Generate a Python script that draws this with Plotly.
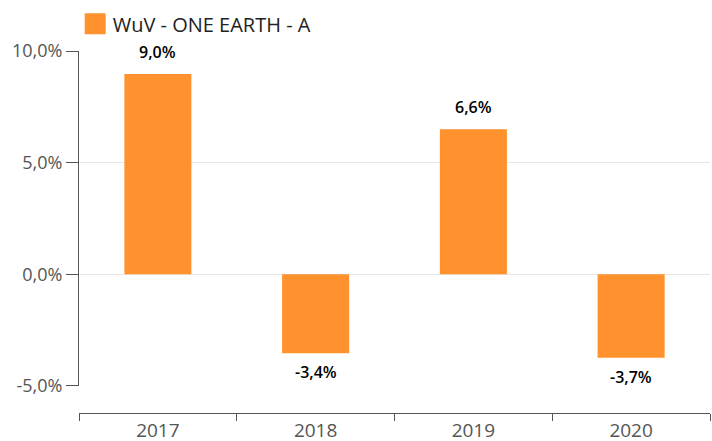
import plotly.graph_objects as go

years = ["2017", "2018", "2019", "2020"]
values = [8.97, -3.53, 6.5, -3.74]
labels = ["9,0%", "-3,4%", "6,6%", "-3,7%"]
tick_vals = [-5, 0, 5, 10]
tick_text = ["-5,0%", "0,0%", "5,0%", "10,0%"]
series_name = "WuV - ONE EARTH - A"

fig = go.Figure()
fig.add_trace(go.Bar(
    x=years, y=values, name=series_name,
    marker=dict(color="#ff922e", line=dict(width=0)),
    showlegend=True, hoverinfo="skip",
))

for i, (v, t) in enumerate(zip(values, labels)):
    fig.add_annotation(
        x=i, y=v, text=t, showarrow=False,
        xref="x", yref="y",
        yanchor="bottom" if v >= 0 else "top",
        yshift=9 if v >= 0 else -6,
        font=dict(family="Open Sans", size=16, color="#000000", weight=600),
    )

fig.update_layout(
    width=712, height=441,
    margin=dict(l=79, r=2, t=51, b=28, autoexpand=False),
    paper_bgcolor="white", plot_bgcolor="white",
    font=dict(family="Open Sans", size=16, color="#555555"),
    bargap=0.575,
    legend=dict(
        orientation="h", x=-0.01, xanchor="left", y=1.075, yanchor="middle",
        font=dict(family="Open Sans", size=20, color="#222222"),
        bgcolor="rgba(0,0,0,0)",
    ),
    xaxis=dict(
        type="category", categoryorder="array", categoryarray=years,
        range=[-0.5, 3.5], anchor="free", position=0,
        showline=True, linecolor="#555555", linewidth=1,
        ticks="outside", tickson="boundaries", ticklen=7, tickcolor="#555555",
        showgrid=False, tickfont=dict(size=19, color="#555555"),
    ),
    yaxis=dict(
        domain=[0.0746, 1], range=[-5, 10],
        tickvals=tick_vals, ticktext=tick_text,
        showline=True, linecolor="#555555", linewidth=1,
        ticks="outside", ticklen=12, tickcolor="#555555",
        showgrid=True, gridcolor="#e6e6e6", gridwidth=1,
        zeroline=False, tickfont=dict(size=18, color="#555555"),
    ),
)

post = (
    "document.body.style.margin='0';document.body.style.overflow='hidden';"
    "document.querySelectorAll('.legendpoints path').forEach(function(p){"
    "p.setAttribute('d','M13,10.5H-8V-10.5H13Z');});"
)
fig.write_html("out.html", config={"displayModeBar": False}, post_script=post)
